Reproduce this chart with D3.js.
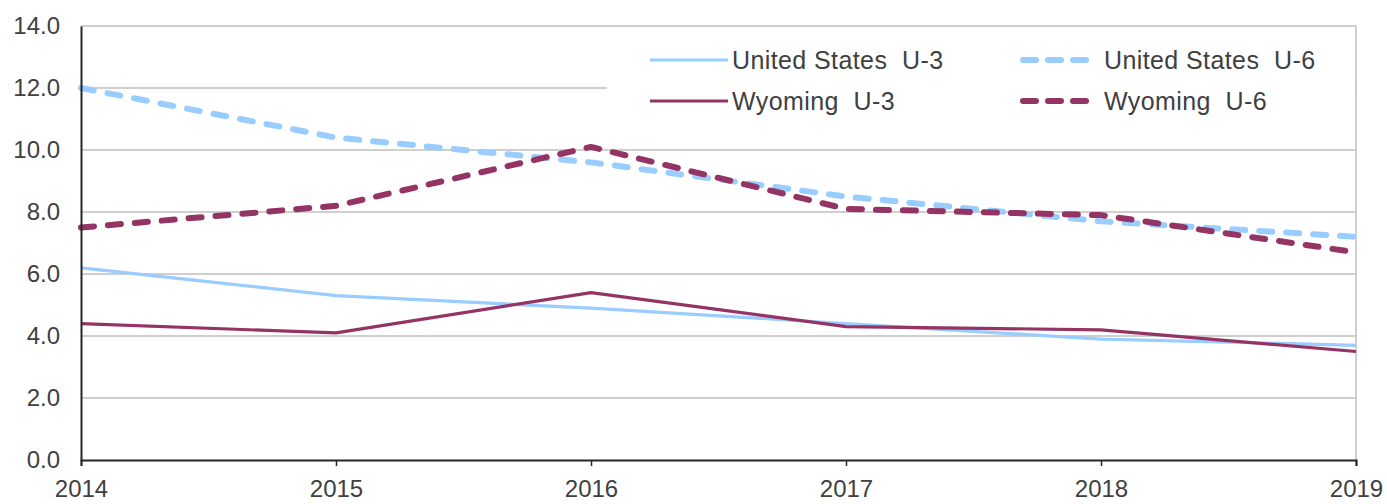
<!DOCTYPE html>
<html>
<head>
<meta charset="utf-8">
<script src="https://cdn.jsdelivr.net/npm/d3@7"></script>
<style>
  body { margin: 0; background: #fff; }
  svg { display: block; font-family: "Liberation Sans", Arial, sans-serif; }
</style>
</head>
<body>
<div id="chart"></div>
<script>
const years = [2014, 2015, 2016, 2017, 2018, 2019];
const usU3 = [6.2, 5.3, 4.9, 4.4, 3.9, 3.7];
const wyU3 = [4.4, 4.1, 5.4, 4.3, 4.2, 3.5];
const usU6 = [12.0, 10.4, 9.6, 8.5, 7.7, 7.2];
const wyU6 = [7.5, 8.2, 10.1, 8.1, 7.9, 6.7];
const yTicks = [0, 2, 4, 6, 8, 10, 12, 14];

const series = [
    { name: "United States  U-3", values: usU3, color: "#99ccff", dashed: false },
    { name: "Wyoming  U-3", values: wyU3, color: "#943464", dashed: false },
    { name: "United States  U-6", values: usU6, color: "#99ccff", dashed: true },
    { name: "Wyoming  U-6", values: wyU6, color: "#943464", dashed: true }
];

const width = 1387,
    height = 504,
    margin = { top: 26, right: 31, bottom: 44, left: 81 };

const x = d3.scaleLinear()
    .domain([2014, 2019])
    .range([margin.left, width - margin.right]);

const y = d3.scaleLinear()
    .domain([0, 14])
    .range([height - margin.bottom, margin.top]);

const svg = d3.select("#chart").append("svg")
    .attr("width", width)
    .attr("height", height);

// gridlines
svg.append("g")
    .selectAll("line")
    .data(yTicks.filter(d => d > 0))
    .enter()
    .append("line")
    .attr("x1", margin.left)
    .attr("x2", width - margin.right)
    .attr("y1", d => y(d))
    .attr("y2", d => y(d))
    .attr("stroke", "#bfbfbf")
    .attr("stroke-width", 1.5);

// right border
svg.append("line")
    .attr("x1", width - margin.right)
    .attr("x2", width - margin.right)
    .attr("y1", y(14))
    .attr("y2", y(0))
    .attr("stroke", "#bfbfbf")
    .attr("stroke-width", 1.5);

// legend background (covers the 12.0 gridline)
svg.append("rect")
    .attr("x", 607)
    .attr("y", y(14) + 1)
    .attr("width", width - margin.right - 608)
    .attr("height", 96)
    .attr("fill", "#fff");

// lines
const line = d3.line()
    .x((d, i) => x(years[i]))
    .y(d => y(d));

series.forEach(s => {
    svg.append("path")
        .datum(s.values)
        .attr("fill", "none")
        .attr("stroke", s.color)
        .attr("stroke-width", s.dashed ? 6 : 3.2)
        .attr("stroke-dasharray", s.dashed ? "13,14" : null)
        .attr("stroke-linecap", s.dashed ? "round" : "butt")
        .attr("stroke-linejoin", "round")
        .attr("d", line);
});

// axes
const xAxis = svg.append("g")
    .attr("transform", `translate(0,${y(0)})`)
    .call(d3.axisBottom(x).tickValues(years).tickFormat(d3.format("d")).tickSize(6).tickPadding(14));
xAxis.select(".domain").attr("stroke", "#262626").attr("stroke-width", 2);
xAxis.selectAll(".tick line").attr("stroke", "#262626").attr("stroke-width", 1.5);
xAxis.selectAll("text")
    .attr("fill", "#404040")
    .style("font-size", "24px");

const yAxis = svg.append("g")
    .attr("transform", `translate(${margin.left},0)`)
    .call(d3.axisLeft(y).tickValues(yTicks).tickFormat(d3.format(".1f")).tickSize(0).tickPadding(21));
yAxis.select(".domain").attr("stroke", "#262626").attr("stroke-width", 2);
yAxis.selectAll("text")
    .attr("fill", "#404040")
    .style("font-size", "24px");

// legend
const legendPos = [
    { x: 650, y: 60 },
    { x: 650, y: 101 },
    { x: 1020, y: 60 },
    { x: 1020, y: 101 }
];

series.forEach((s, i) => {
    const p = legendPos[i];
    const g = svg.append("g").attr("transform", `translate(${p.x},${p.y})`);
    if (s.dashed) {
        g.append("line")
            .attr("x1", 3).attr("x2", 66)
            .attr("stroke", s.color)
            .attr("stroke-width", 6)
            .attr("stroke-linecap", "round")
            .attr("stroke-dasharray", "13,12");
    } else {
        g.append("line")
            .attr("x1", 0).attr("x2", 78)
            .attr("stroke", s.color)
            .attr("stroke-width", 3.2);
    }
    g.append("text")
        .attr("x", s.dashed ? 84 : 82)
        .attr("dy", "0.35em")
        .attr("fill", "#404040")
        .style("font-size", "25px")
        .style("letter-spacing", "0.4px")
        .style("white-space", "pre")
        .text(s.name);
});
</script>
</body>
</html>
